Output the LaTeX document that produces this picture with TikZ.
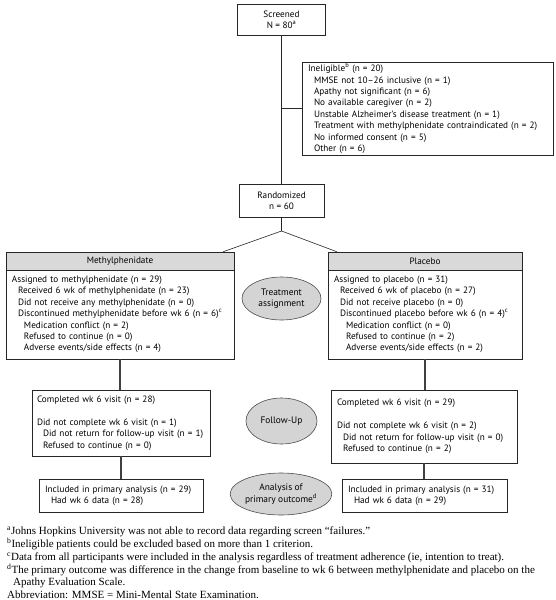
\documentclass[tikz,border=0pt]{standalone}
\usepackage{fontspec}
\setmainfont{PT Sans}
\newfontfamily\notefont{Liberation Serif}
\usepackage{tikz}
\usetikzlibrary{shapes,positioning}

\newcommand\indI{\hspace*{6pt}}
\newcommand\indII{\hspace*{12pt}}

\begin{document}
\begin{tikzpicture}[x=1pt,y=-1pt,
	box/.style={draw=black!85,line width=0.6pt,fill=white,inner ysep=0pt,inner xsep=6pt,
		align=left,font=\fontsize{9.2}{11.4}\selectfont},
	head/.style={box,fill=black!15,align=center,minimum height=18pt},
	stage/.style={ellipse,draw=black!70,line width=0.6pt,fill=black!17,inner sep=0pt,
		align=center,font=\fontsize{9.4}{11.4}\selectfont}]
	\useasboundingbox (0,0) rectangle (556,600);
	%
	\node[box,align=center,minimum width=88pt,minimum height=31pt] (S) at (281.5,19.5) {Screened\\N = 80\textsuperscript{a}};
	\node[box,text width=239pt,minimum height=93pt] (I) at (427.5,108.5) {Ineligible\textsuperscript{b} (n = 20)\\
		\indI MMSE not 10--26 inclusive (n = 1)\\
		\indI Apathy not significant (n = 6)\\
		\indI No available caregiver (n = 2)\\
		\indI Unstable Alzheimer's disease treatment (n = 1)\\
		\indI Treatment with methylphenidate contraindicated (n = 2)\\
		\indI No informed consent (n = 5)\\
		\indI Other (n = 6)};
	\node[box,align=center,minimum width=85pt,minimum height=33pt] (R) at (281.5,200.5) {Randomized\\n = 60};
	\coordinate (J) at (281.5,231);
	%
	\node[head,minimum width=228pt] (A) at (120,261) {Methylphenidate};
	\node[box,text width=216pt,minimum height=89pt] (A') at (120,314.5) {Assigned to methylphenidate (n = 29)\\
		\indI Received 6 wk of methylphenidate (n = 23)\\
		\indI Did not receive any methylphenidate (n = 0)\\
		\indI Discontinued methylphenidate before wk 6 (n = 6)\textsuperscript{c}\\
		\indII Medication conflict (n = 2)\\
		\indII Refused to continue (n = 0)\\
		\indII Adverse events/side effects (n = 4)};
	\node[box,inner xsep=5pt,text width=168pt,minimum height=66pt] (A'') at (121,423) {Completed wk 6 visit (n = 28)\\[11.4pt]
		Did not complete wk 6 visit (n = 1)\\
		\indI\mbox{Did not return for follow-up visit (n = 1)}\\
		\indI Refused to continue (n = 0)};
	\node[box,text width=152pt,minimum height=33pt] (A''') at (121,495.5) {Included in primary analysis (n = 29)\\
		\indI Had wk 6 data (n = 28)};
	%
	\node[head,minimum width=194pt] (C) at (425,261) {Placebo};
	\node[box,text width=182pt,minimum height=89pt] (C') at (425,314.5) {Assigned to placebo (n = 31)\\
		\indI Received 6 wk of placebo (n = 27)\\
		\indI Did not receive placebo (n = 0)\\
		\indI Discontinued placebo before wk 6 (n = 4)\textsuperscript{c}\\
		\indII Medication conflict (n = 0)\\
		\indII Refused to continue (n = 2)\\
		\indII Adverse events/side effects (n = 2)};
	\node[box,text width=174pt,minimum height=73pt] (C'') at (424,426.5) {Completed wk 6 visit (n = 29)\\[11.4pt]
		Did not complete wk 6 visit (n = 2)\\
		\indI Did not return for follow-up visit (n = 0)\\
		\indI Refused to continue (n = 2)};
	\node[box,text width=153pt,minimum height=33pt] (C''') at (424.5,495.5) {Included in primary analysis (n = 31)\\
		\indI Had wk 6 data (n = 29)};
	%
	\node[stage,minimum width=79pt,minimum height=43pt] (B') at (281.5,298.5) {Treatment\\assignment};
	\node[stage,minimum width=71pt,minimum height=46pt] (B'') at (281.5,421) {Follow-Up};
	\node[stage,minimum width=98pt,minimum height=42pt] (B''') at (281,494) {Analysis of\\primary outcome\textsuperscript{d}};
	%
	\node[anchor=north west,align=left,inner sep=0pt,font=\notefont\fontsize{11}{12.7}\selectfont] (N) at (7,527)
		{\textsuperscript{a}Johns Hopkins University was not able to record data regarding screen “failures.”\\
		\textsuperscript{b}Ineligible patients could be excluded based on more than 1 criterion.\\
		\textsuperscript{c}Data from all participants were included in the analysis regardless of treatment adherence (ie, intention to treat).\\
		\textsuperscript{d}The primary outcome was difference in the change from baseline to wk 6 between methylphenidate and placebo on the\\
		\hspace*{6pt}Apathy Evaluation Scale.\\
		Abbreviation: MMSE = Mini-Mental State Examination.};
	%
	\path[line width=0.6pt,draw=black!85]
	% screening trunk
	(S) edge (R)
	(S.south |- I.west) edge (I.west)
	(R) edge (J)
	% split into arms
	(J) edge ([xshift=-11pt]A.north east)
	(J) edge ([xshift=9pt]C.north west);
	\path[line width=1.5pt,draw=black!75]
	% arm lines
	(A'.south) edge (A'.south |- A''.north)
	(A''.south) edge (A''.south |- A'''.north)
	(C'.south) edge (C'.south |- C''.north)
	(C''.south) edge (C''.south |- C'''.north);
\end{tikzpicture}
\end{document}
